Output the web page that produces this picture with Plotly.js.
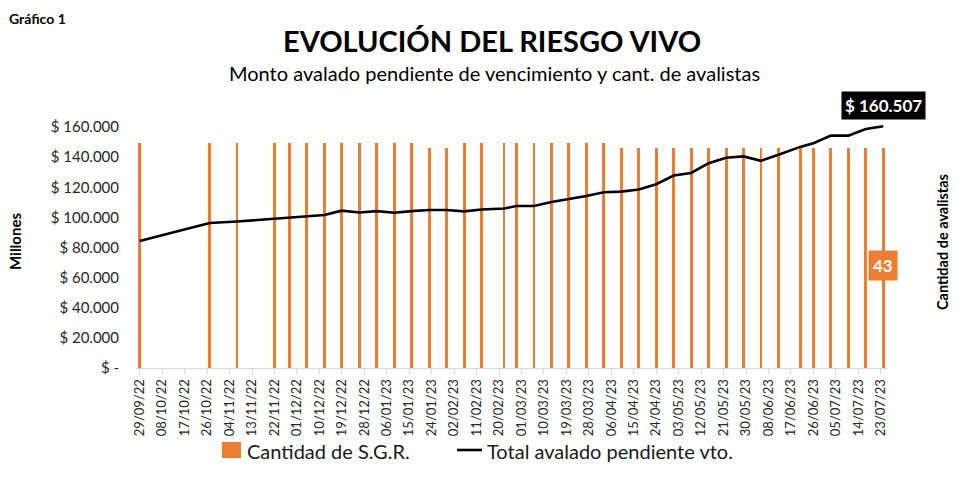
<!DOCTYPE html>
<html>
<head>
<meta charset="utf-8">
<script src="https://cdn.plot.ly/plotly-3.0.1.min.js"></script>
<style>html,body{margin:0;padding:0;background:#fff;}#chart{width:963px;height:481px;}</style>
</head>
<body>
<div id="chart"></div>
<script>
// ---- data ----
const dates = ['2022-09-29','2022-10-27','2022-11-07','2022-11-22','2022-11-28','2022-12-05','2022-12-12','2022-12-19','2022-12-26',
  '2023-01-02','2023-01-09','2023-01-16','2023-01-23','2023-01-30','2023-02-06','2023-02-13','2023-02-22','2023-02-27',
  '2023-03-06','2023-03-13','2023-03-20','2023-03-27','2023-04-03','2023-04-10','2023-04-17','2023-04-24','2023-05-01',
  '2023-05-08','2023-05-15','2023-05-22','2023-05-29','2023-06-05','2023-06-12','2023-06-21','2023-06-26','2023-07-03',
  '2023-07-10','2023-07-17','2023-07-24'];
const cantidadSGR = [44,44,44,44,44,44,44,44,44,
  44,44,44,43,43,44,44,44,44,
  44,44,44,44,44,43,43,43,43,
  43,43,43,43,43,43,43,43,43,
  43,43,43];
const totalAvalado = [84300,96300,97300,99100,99600,100900,101600,104500,103300,
  104200,103100,104200,104900,104900,104000,105300,105900,107600,
  107600,110200,112000,114200,116700,117100,118500,122000,127800,
  129500,136000,139600,140500,137600,141600,147000,149300,154300,
  154300,158700,160507];
const yTickVals = [0,20000,40000,60000,80000,100000,120000,140000,160000];
const yTickText = ['$ -','$ 20.000','$ 40.000','$ 60.000','$ 80.000','$ 100.000','$ 120.000','$ 140.000','$ 160.000'];
const seriesNames = ['Cantidad de S.G.R.', 'Total avalado pendiente vto.'];

const FONT = 'Lato, "Liberation Sans", sans-serif';
const ORANGE = '#ED7D31';
const DAY = 86400000;
const W = 963, H = 481, ML = 136, MR = 76, MT = 112, MB = 113;
const PW = W - ML - MR, PH = H - MT - MB;
// pixel -> paper helpers (for layout placement only)
const px = v => (v - ML) / PW;
const py = v => (H - MB - v) / PH;

function fmtMiles(v){ return '$ ' + v.toString().replace(/\B(?=(\d{3})+(?!\d))/g, '.'); }

const lastIdx = dates.length - 1;

const traces = [
  {
    type: 'bar', name: seriesNames[0],
    x: dates, y: cantidadSGR, yaxis: 'y',
    width: 1.15 * DAY,
    marker: {color: ORANGE, line: {width: 0}},
    showlegend: false
  },
  {
    type: 'scatter', mode: 'lines', name: seriesNames[1],
    x: dates, y: totalAvalado, yaxis: 'y2',
    line: {color: '#000000', width: 2.6},
    showlegend: false
  }
];

const layout = {
  width: W, height: H,
  margin: {l: ML, r: MR, t: MT, b: MB},
  paper_bgcolor: '#ffffff', plot_bgcolor: '#ffffff',
  font: {family: FONT, color: '#262626'},
  showlegend: false,
  bargap: 0,
  xaxis: {
    type: 'date',
    range: ['2022-09-27 12:00', '2023-07-25 12:00'],
    tick0: '2022-09-29', dtick: 9 * DAY,
    tickformat: '%d/%m/%y', tickangle: -90,
    tickfont: {size: 13, color: '#262626'},
    showgrid: false, zeroline: false,
    showline: true, linecolor: '#d9d9d9', linewidth: 1,
    ticks: 'outside', ticklen: 5, tickcolor: '#d9d9d9'
  },
  yaxis: {
    range: [0, 50], visible: false, fixedrange: true
  },
  yaxis2: {
    overlaying: 'y', side: 'left',
    range: [0, 170000],
    tickvals: yTickVals, ticktext: yTickText,
    tickfont: {size: 15, color: '#262626'},
    showgrid: false, zeroline: false, showline: false,
    ticks: '', ticklabelstandoff: 16
  },
  shapes: [
    // legend keys
    {type: 'rect', xref: 'paper', yref: 'paper', x0: px(222), x1: px(241), y0: py(458), y1: py(442),
     fillcolor: ORANGE, line: {width: 0}},
    {type: 'line', xref: 'paper', yref: 'paper', x0: px(457), x1: px(482), y0: py(450), y1: py(450),
     line: {color: '#000', width: 2.6}}
  ],
  annotations: [
    {text: '<b>Gráfico 1</b>', xref: 'paper', yref: 'paper', x: px(7), y: py(18), xanchor: 'left', yanchor: 'middle',
     showarrow: false, font: {size: 14, color: '#000'}},
    {text: '<b>EVOLUCIÓN DEL RIESGO VIVO</b>', xref: 'paper', yref: 'paper', x: px(492), y: py(40), xanchor: 'center', yanchor: 'middle',
     showarrow: false, font: {size: 29, color: '#000'}},
    {text: 'Monto avalado pendiente de vencimiento y cant. de avalistas', xref: 'paper', yref: 'paper', x: px(494), y: py(73),
     xanchor: 'center', yanchor: 'middle', showarrow: false, font: {size: 20, color: '#000'}},
    {text: '<b>Millones</b>', xref: 'paper', yref: 'paper', x: px(15), y: py(242), xanchor: 'center', yanchor: 'middle',
     textangle: -90, showarrow: false, font: {size: 15, color: '#000'}},
    {text: '<b>Cantidad de avalistas</b>', xref: 'paper', yref: 'paper', x: px(942), y: py(242), xanchor: 'center', yanchor: 'middle',
     textangle: -90, showarrow: false, font: {size: 14.5, color: '#000'}},
    {text: seriesNames[0], xref: 'paper', yref: 'paper', x: px(245), y: py(451), xanchor: 'left', yanchor: 'middle',
     showarrow: false, font: {size: 20, color: '#1a1a1a'}},
    {text: seriesNames[1], xref: 'paper', yref: 'paper', x: px(485), y: py(451), xanchor: 'left', yanchor: 'middle',
     showarrow: false, font: {size: 20, color: '#1a1a1a'}},
    {text: '<b>' + fmtMiles(totalAvalado[lastIdx]) + '</b>', xref: 'x', yref: 'y2', x: dates[lastIdx], y: totalAvalado[lastIdx],
     xanchor: 'center', yanchor: 'middle', yshift: 21, showarrow: false, bgcolor: '#000000', borderpad: 3,
     font: {size: 17, color: '#ffffff'}},
    {text: '<b>' + cantidadSGR[lastIdx] + '</b>', xref: 'x', yref: 'y', x: dates[lastIdx], y: cantidadSGR[lastIdx] / 2,
     xanchor: 'center', yanchor: 'middle', yshift: -8, showarrow: false, bgcolor: ORANGE, borderpad: 4,
     font: {size: 17, color: '#ffffff'}}
  ]
};

Plotly.newPlot('chart', traces, layout, {displayModeBar: false, staticPlot: true});
</script>
</body>
</html>
